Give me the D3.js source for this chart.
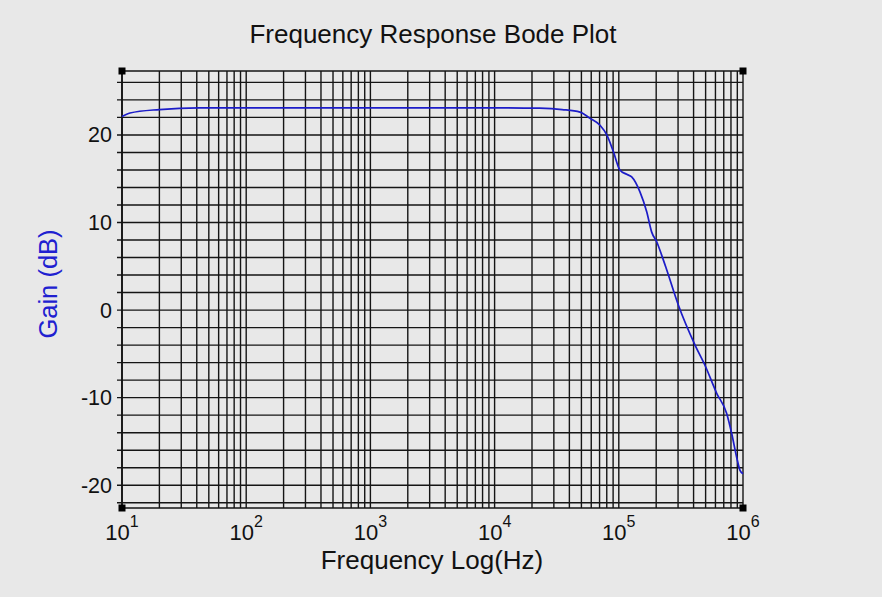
<!DOCTYPE html>
<html>
<head>
<meta charset="utf-8">
<script src="https://cdn.jsdelivr.net/npm/d3@7"></script>
<style>
  body { margin: 0; background: #e8e8e8; }
  text { font-family: "Liberation Sans", Arial, sans-serif; }
</style>
</head>
<body>
<div id="canvas"></div>
<script>
const MARGIN = { LEFT: 122, RIGHT: 139, TOP: 71, BOTTOM: 89 };
const WIDTH = 882 - MARGIN.LEFT - MARGIN.RIGHT;
const HEIGHT = 597 - MARGIN.TOP - MARGIN.BOTTOM;

// frequency (Hz) and gain (dB)
const freq = [10, 11.6, 20, 42, 100, 1000, 10000, 23000, 35000, 48700, 58600, 70600, 80000, 90400,
  102000, 115700, 127000, 148000, 168000, 184000, 202000, 221000, 243000, 301000, 411000,
  494000, 614000, 739000, 811000, 889000, 946000, 1000000];
const gain = [22.1, 22.5, 22.9, 23.1, 23.1, 23.1, 23.1, 23.05, 22.9, 22.6, 21.9, 21.1, 20.0, 18.1,
  16.0, 15.5, 15.2, 13.5, 11.2, 8.9, 7.8, 6.3, 4.6, 0.6, -4.0,
  -6.3, -9.5, -11.8, -14.1, -16.8, -18.3, -18.7];

const yTicks = [-20, -10, 0, 10, 20];
const xDecades = [1, 2, 3, 4, 5, 6];

const svg = d3.select('#canvas').append('svg')
  .attr('width', 882)
  .attr('height', 597);

svg.append('rect').attr('width', 882).attr('height', 597).attr('fill', '#e8e8e8');

const g = svg.append('g')
  .attr('transform', `translate(${MARGIN.LEFT}, ${MARGIN.TOP})`);

const x = d3.scaleLog().domain([10, 1e6]).range([0, WIDTH]);
const y = d3.scaleLinear().domain([-22.6, 27.3]).range([HEIGHT, 0]);

// vertical grid: every k*10^n
const xGrid = [];
for (let n = 1; n < 6; n++) {
  for (let k = 1; k < 10; k++) xGrid.push(k * Math.pow(10, n));
}
xGrid.push(1e6);

// horizontal grid every 2 dB
const yGrid = d3.range(-22, 27, 2);

g.selectAll('.vgrid').data(xGrid).enter().append('line')
  .attr('x1', d => x(d)).attr('x2', d => x(d))
  .attr('y1', 0).attr('y2', HEIGHT)
  .attr('stroke', '#151515').attr('stroke-width', 1.4);

g.selectAll('.hgrid').data(yGrid).enter().append('line')
  .attr('x1', -5).attr('x2', WIDTH)
  .attr('y1', d => y(d)).attr('y2', d => y(d))
  .attr('stroke', '#151515').attr('stroke-width', 1.4);

// frame
g.append('line').attr('x1', 0).attr('x2', WIDTH).attr('y1', 0).attr('y2', 0)
  .attr('stroke', '#151515').attr('stroke-width', 1.4);
g.append('line').attr('x1', 0).attr('x2', WIDTH).attr('y1', HEIGHT).attr('y2', HEIGHT)
  .attr('stroke', '#151515').attr('stroke-width', 1.7);
g.append('line').attr('x1', 0).attr('x2', 0).attr('y1', 0).attr('y2', HEIGHT)
  .attr('stroke', '#151515').attr('stroke-width', 1.7);

// y tick labels
g.selectAll('.ylab').data(yTicks).enter().append('text')
  .attr('x', -10).attr('y', d => y(d)).attr('dy', '0.35em')
  .attr('text-anchor', 'end').attr('font-size', 21.5).attr('fill', '#111')
  .text(d => d);

// x tick labels 10^n
const xl = g.selectAll('.xlab').data(xDecades).enter().append('text')
  .attr('x', d => x(Math.pow(10, d)))
  .attr('y', HEIGHT + 32)
  .attr('text-anchor', 'middle').attr('font-size', 22).attr('fill', '#111');
xl.append('tspan').text('10');
xl.append('tspan').attr('dy', -13).attr('font-size', 16).text(d => d);

// curve
const pts = freq.map((f, i) => [f, gain[i]]);
g.append('path')
  .datum(pts)
  .attr('fill', 'none')
  .attr('stroke', '#1c1cc8')
  .attr('stroke-width', 1.7)
  .attr('d', d3.line().x(d => x(d[0])).y(d => y(d[1])).curve(d3.curveMonotoneX));

// corner markers
const corners = [[0, 0], [WIDTH, 0], [0, HEIGHT], [WIDTH, HEIGHT]];
g.selectAll('.corner').data(corners).enter().append('rect')
  .attr('x', d => d[0] - 3.5).attr('y', d => d[1] - 3.5)
  .attr('width', 7).attr('height', 7).attr('fill', '#000');

// titles
svg.append('text')
  .attr('x', 433).attr('y', 43)
  .attr('text-anchor', 'middle').attr('font-size', 26).attr('fill', '#111')
  .text('Frequency Response Bode Plot');

svg.append('text')
  .attr('x', 432).attr('y', 569)
  .attr('text-anchor', 'middle').attr('font-size', 26).attr('fill', '#111')
  .text('Frequency Log(Hz)');

svg.append('text')
  .attr('transform', 'translate(57, 284) rotate(-90)')
  .attr('text-anchor', 'middle').attr('font-size', 25.5).attr('fill', '#2020d0')
  .text('Gain (dB)');
</script>
</body>
</html>
